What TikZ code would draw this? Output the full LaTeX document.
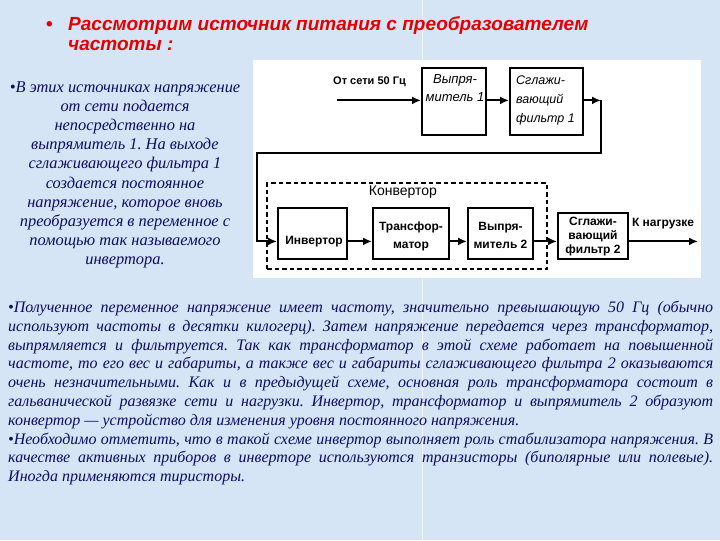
\documentclass[tikz,border=0pt]{standalone}
\usepackage{fontspec}
\setmainfont{Liberation Serif}
\setsansfont{Liberation Sans}
\usetikzlibrary{arrows.meta}
\definecolor{bgblue}{RGB}{214,229,245}
\definecolor{navy}{RGB}{12,12,100}
\definecolor{titlered}{RGB}{228,0,0}
\frenchspacing
\begin{document}
\begin{tikzpicture}[x=1pt,y=-1pt,
  blk/.style={draw=black,line width=2pt,inner sep=0pt},
  conv/.style={draw=black,line width=2pt,dash pattern=on 4.5pt off 3pt,inner sep=0pt},
  arr/.style={line width=2pt,-{Latex[length=9pt,width=8pt]}},
  boldlbl/.style={font=\sffamily\bfseries\fontsize{12}{18}\selectfont,align=center,inner sep=0pt},
  itlbl/.style={font=\sffamily\itshape\fontsize{13}{18}\selectfont,inner sep=0pt},
  body/.style={text=navy,font=\itshape\fontsize{16}{19.1}\selectfont,inner sep=0pt}]
% background
\fill[bgblue] (0,0) rectangle (720,540);
\draw[white,opacity=0.6,line width=0.8pt] (422,0) -- (422,540);
% title (base anchor = last line's baseline)
\node[anchor=base west,inner sep=0pt,text=titlered,font=\sffamily\bfseries\fontsize{19}{20}\selectfont] (bul) at (46,30) {•};
\node[anchor=base west,inner sep=0pt,text=titlered,align=left,font=\sffamily\bfseries\itshape\fontsize{19}{20}\selectfont] (title) at (68,50) {Рассмотрим источник питания с преобразователем\\частоты :};
% left text
\node[body,anchor=base,align=center,font=\itshape\fontsize{16.4}{19.1}\selectfont] (lefttext) at (125,264) {•В этих источниках напряжение\\от сети подается\\непосредственно на\\выпрямитель 1. На выходе\\сглаживающего фильтра 1\\создается постоянное\\напряжение, которое вновь\\преобразуется в переменное с\\помощью так называемого\\инвертора.};
% diagram area
\fill[white] (253,60) rectangle (701,278);
\node[blk,minimum width=64pt,minimum height=67pt] (r1) at (454,101.5) {};
\node[blk,minimum width=73pt,minimum height=67pt] (f1) at (546.5,101.5) {};
\node[conv,minimum width=280pt,minimum height=86pt] (cv) at (407,226) {};
\node[blk,minimum width=69pt,minimum height=51pt] (inv) at (312.5,233.5) {};
\node[blk,minimum width=76pt,minimum height=51pt] (tr) at (411,233.5) {};
\node[blk,minimum width=65pt,minimum height=51pt] (r2) at (500.5,233.5) {};
\node[blk,minimum width=70pt,minimum height=46pt] (f2) at (593,236) {};
% labels
\node[anchor=base west,inner sep=0pt,font=\sffamily\bfseries\fontsize{11}{13}\selectfont] (srclbl) at (333,84) {От сети 50 Гц};
\node[itlbl,anchor=base,align=center] (r1lbl) at (455,101) {Выпря-\\митель 1};
\node[itlbl,anchor=base west,align=left,font=\sffamily\itshape\fontsize{12.5}{19}\selectfont] (f1lbl) at (516,122) {Сглажи-\\вающий\\фильтр 1};
\node[inner sep=0pt,font=\sffamily\fontsize{14}{16}\selectfont] (cvlbl) at (403,192) {Конвертор};
\node[boldlbl] (invlbl) at (314,241) {Инвертор};
\node[boldlbl] (trlbl) at (411,236) {Трансфор-\\матор};
\node[boldlbl] (r2lbl) at (500.5,235) {Выпря-\\митель 2};
\node[boldlbl,font=\sffamily\bfseries\fontsize{12}{14}\selectfont] (f2lbl) at (593,236) {Сглажи-\\вающий\\фильтр 2};
\node[inner sep=0pt,font=\sffamily\bfseries\fontsize{12}{14}\selectfont] (loadlbl) at (663,223) {К нагрузке};
% connectors
\coordinate (yb) at (0,100);
\coordinate (ya) at (0,241);
\coordinate (src) at (337,100);
\coordinate (c1) at (601,100);
\coordinate (c3) at (257,153);
\coordinate (load) at (698,241);
\draw[arr] (src) -- (r1.west |- yb);
\draw[arr] (r1.east |- yb) -- (f1.west |- yb);
\draw[arr] (f1.east |- yb) -- (c1);
\draw[arr] (c1) |- (c3) |- (inv.west |- ya);
\draw[arr] (inv.east |- ya) -- (tr.west |- ya);
\draw[arr] (tr.east |- ya) -- (r2.west |- ya);
\draw[arr] (r2.east |- ya) -- (f2.west |- ya);
\draw[arr] (f2.east |- ya) -- (load);
% bottom text
\node[body,anchor=base west,text width=705pt,align=justify,font=\itshape\fontsize{16}{18.8}\selectfont] (bottomtext) at (8,312) {•Полученное переменное напряжение имеет частоту, значительно превышающую 50 Гц (обычно\linebreak используют частоты в десятки килогерц). Затем напряжение передается через трансформатор,\linebreak выпрямляется и фильтруется. Так как трансформатор в этой схеме работает на повышенной\linebreak частоте, то его вес и габариты, а также вес и габариты сглаживающего фильтра 2 оказываются\linebreak очень незначительными. Как и в предыдущей схеме, основная роль трансформатора состоит в\linebreak гальванической развязке сети и нагрузки. Инвертор, трансформатор и выпрямитель 2 образуют\linebreak конвертор — устройство для изменения уровня постоянного напряжения.\\•Необходимо отметить, что в такой схеме инвертор выполняет роль стабилизатора напряжения. В\linebreak качестве активных приборов в инверторе используются транзисторы (биполярные или полевые).\linebreak Иногда применяются тиристоры.};
\end{tikzpicture}
\end{document}
